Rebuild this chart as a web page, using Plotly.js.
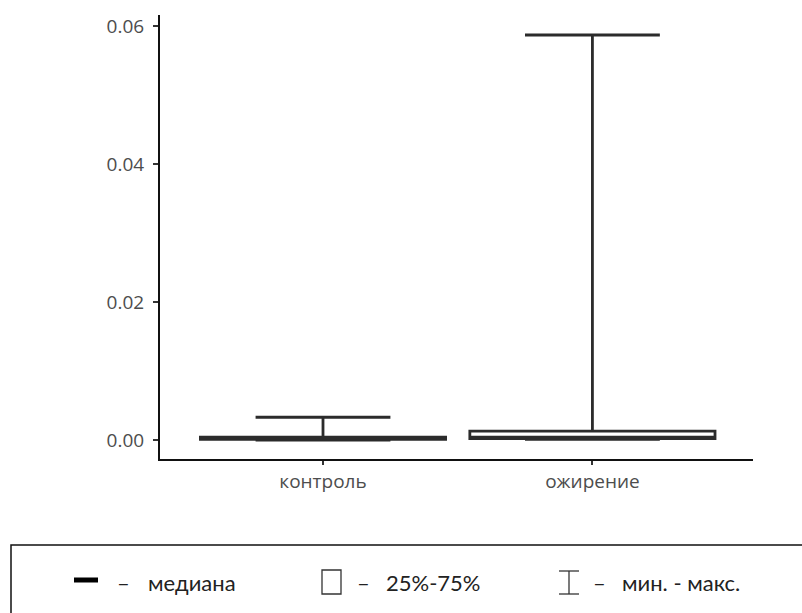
<!DOCTYPE html>
<html>
<head>
<meta charset="utf-8">
<script src="https://cdn.plot.ly/plotly-3.0.1.min.js"></script>
<style>
  html, body { margin: 0; padding: 0; background: #ffffff; }
  #chart { width: 802px; height: 613px; }
</style>
</head>
<body>
<div id="chart"></div>
<script>
// Groups and their five-number summaries
const categories = ['контроль', 'ожирение'];
const minVals    = [0.0000, 0.0001];
const q1Vals     = [0.0001, 0.0002];
const medianVals = [0.0002, 0.0004];
const q3Vals     = [0.0004, 0.0013];
const maxVals    = [0.0033, 0.0587];

// Y axis ticks
const yTickVals  = [0, 0.02, 0.04, 0.06];
const yTickText  = ['0.00', '0.02', '0.04', '0.06'];

// Legend captions
const legendMedian = 'медиана';
const legendBox    = '25%-75%';
const legendRange  = 'мин. - макс.';

const W = 802, H = 613;
const M = { l: 160, r: 49, t: 15, b: 154 };
const plotW = W - M.l - M.r;
const plotH = H - M.t - M.b;
// pixel -> paper helpers for the legend panel drawn under the plot
const px = x => (x - M.l) / plotW;
const py = y => (H - M.b - y) / plotH;

const lineCol = '#2b2b2b';

const trace = {
  type: 'box',
  x: categories,
  q1: q1Vals,
  median: medianVals,
  q3: q3Vals,
  lowerfence: minVals,
  upperfence: maxVals,
  boxpoints: false,
  width: 0.91,
  whiskerwidth: 0.55,
  fillcolor: '#ffffff',
  line: { color: lineCol, width: 2.8 },
  hoverinfo: 'skip',
  showlegend: false
};

const legendFont = { family: 'Lato, "Liberation Sans", sans-serif', size: 22, color: '#222222' };
const rowY = 582;

const shapes = [
  // legend frame
  { type: 'rect', xref: 'paper', yref: 'paper', x0: px(11), x1: px(812), y0: py(545), y1: py(625),
    line: { color: '#111111', width: 1.5 }, fillcolor: 'rgba(0,0,0,0)', layer: 'above' },
  // median marker
  { type: 'line', xref: 'paper', yref: 'paper', x0: px(74), x1: px(98), y0: py(580), y1: py(580),
    line: { color: '#000000', width: 5 } },
  // quartile box marker
  { type: 'rect', xref: 'paper', yref: 'paper', x0: px(322), x1: px(341), y0: py(570), y1: py(594),
    line: { color: '#333333', width: 1.3 }, fillcolor: 'rgba(0,0,0,0)' },
  // min-max marker
  { type: 'line', xref: 'paper', yref: 'paper', x0: px(569), x1: px(569), y0: py(571), y1: py(594),
    line: { color: '#333333', width: 1.3 } },
  { type: 'line', xref: 'paper', yref: 'paper', x0: px(559), x1: px(579), y0: py(571), y1: py(571),
    line: { color: '#333333', width: 1.3 } },
  { type: 'line', xref: 'paper', yref: 'paper', x0: px(559), x1: px(579), y0: py(594), y1: py(594),
    line: { color: '#333333', width: 1.3 } }
];

function note(text, x) {
  return { text: text, xref: 'paper', yref: 'paper', x: px(x), y: py(rowY),
           xanchor: 'left', yanchor: 'middle', showarrow: false, font: legendFont };
}

const annotations = [
  note('–', 115), note(legendMedian, 146),
  note('–', 355), note(legendBox, 384),
  note('–', 591), note(legendRange, 620)
];

const layout = {
  width: W, height: H,
  margin: M,
  paper_bgcolor: '#ffffff',
  plot_bgcolor: '#ffffff',
  font: { family: '"Open Sans", sans-serif', size: 19, color: '#4d4d4d' },
  showlegend: false,
  xaxis: {
    type: 'category',
    range: [-0.605, 1.596],
    showline: true, linecolor: '#111111', linewidth: 2,
    ticks: 'outside', ticklen: 4, tickwidth: 2, tickcolor: '#333333',
    showgrid: false, zeroline: false,
    tickfont: { size: 19, color: '#4d4d4d' },
    fixedrange: true
  },
  yaxis: {
    range: [-0.00275, 0.0616],
    tickvals: yTickVals, ticktext: yTickText,
    showline: true, linecolor: '#111111', linewidth: 2,
    ticks: 'outside', ticklen: 5, tickwidth: 2, tickcolor: '#333333',
    ticklabelstandoff: 5,
    showgrid: false, zeroline: false,
    tickfont: { size: 19, color: '#4d4d4d' },
    fixedrange: true
  },
  shapes: shapes,
  annotations: annotations
};

Plotly.newPlot('chart', [trace], layout, { staticPlot: true, displayModeBar: false });
</script>
</body>
</html>
